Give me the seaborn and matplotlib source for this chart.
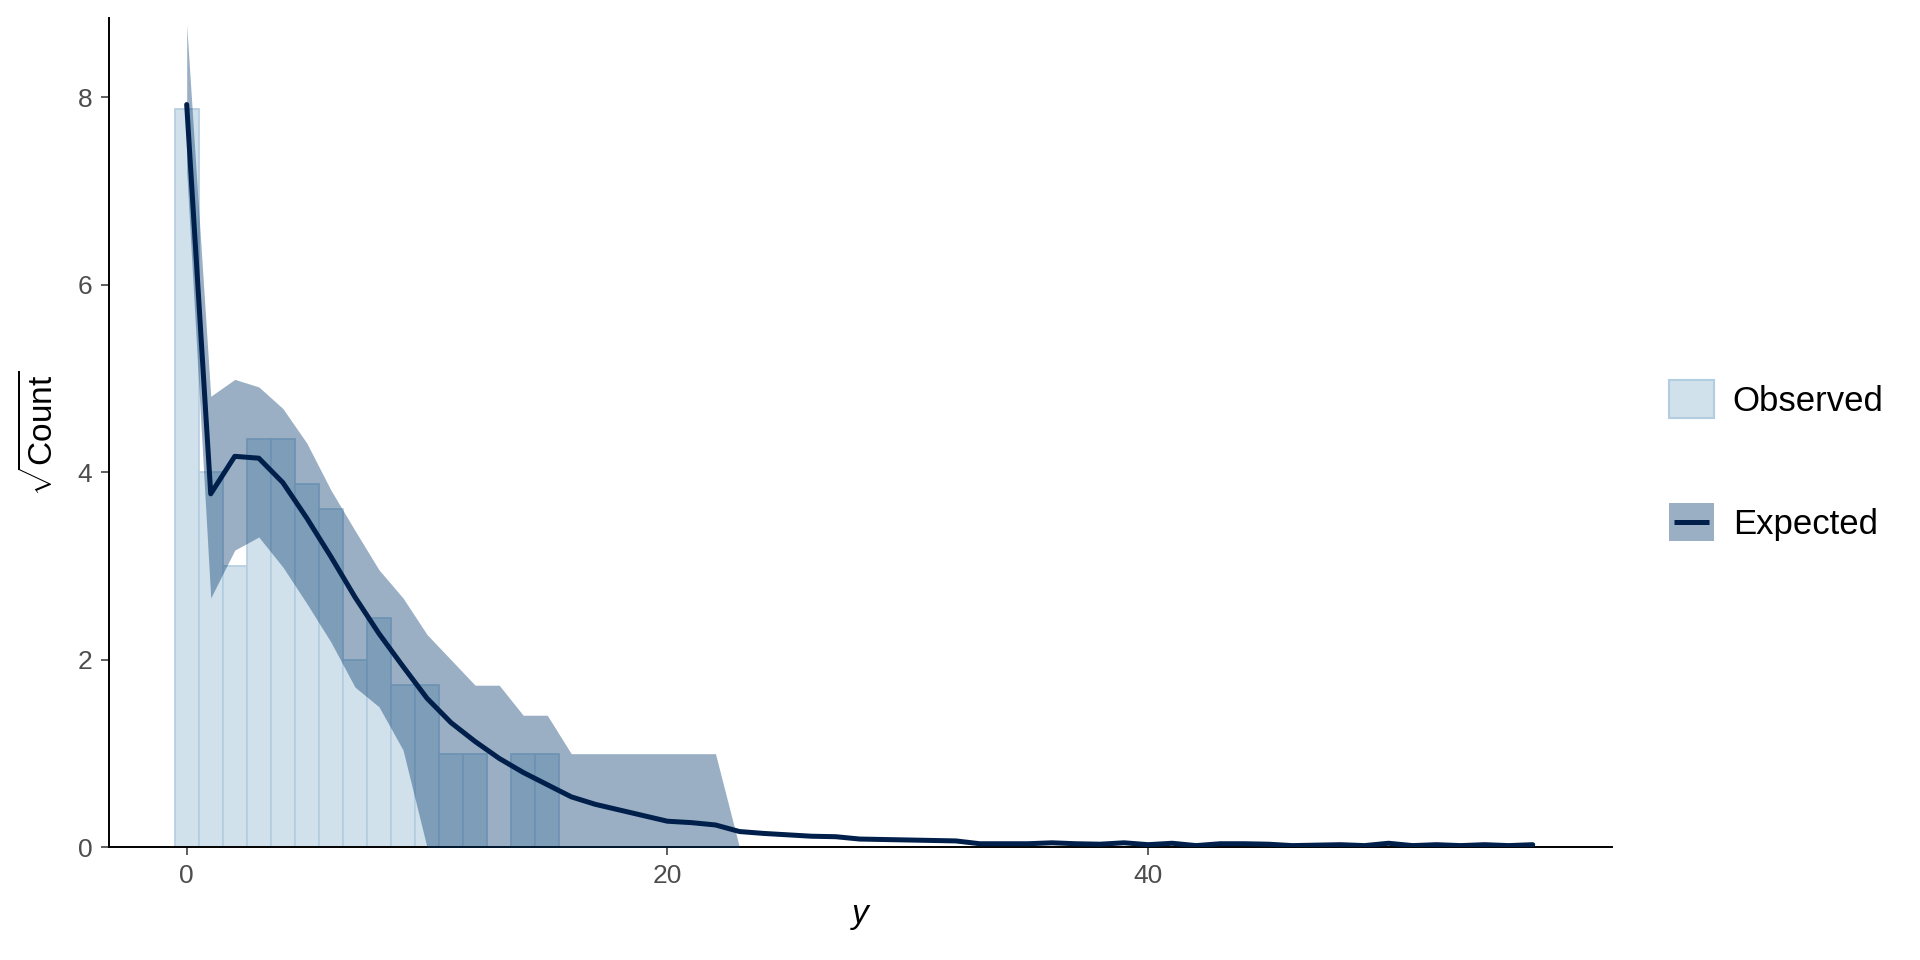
import numpy as np
import pandas as pd
import matplotlib
matplotlib.use("Agg")
import matplotlib.pyplot as plt
import seaborn as sns
from matplotlib.patches import Patch, Rectangle
from matplotlib.lines import Line2D
from matplotlib.legend_handler import HandlerBase

# ---------------- data ----------------
obs_y = list(range(0, 16))
obs_counts = [62, 16, 9, 19, 19, 15, 13, 4, 6, 3, 3, 1, 1, 0, 1, 1]

exp_y = list(range(0, 57))
exp_sqrt = [7.92, 3.77, 4.17, 4.15, 3.89, 3.51, 3.10, 2.67, 2.28, 1.93,
            1.59, 1.33, 1.13, 0.95, 0.80, 0.67, 0.54, 0.46, 0.40, 0.34,
            0.28, 0.265, 0.24, 0.17, 0.15, 0.135, 0.12, 0.115, 0.09, 0.085,
            0.08, 0.075, 0.07, 0.04, 0.04, 0.04, 0.05, 0.04, 0.035, 0.05,
            0.03, 0.045, 0.02, 0.04, 0.04, 0.035, 0.02, 0.025, 0.03, 0.02,
            0.045, 0.02, 0.03, 0.02, 0.03, 0.02, 0.03]

band_y = list(range(0, 24))
band_upper = [8.77, 4.81, 4.99, 4.91, 4.68, 4.31, 3.81, 3.38, 2.96, 2.66,
              2.27, 2.00, 1.73, 1.73, 1.41, 1.41, 1.00, 1.00, 1.00, 1.00,
              1.00, 1.00, 1.00, 0.00]
band_lower = [7.21, 2.66, 3.17, 3.31, 2.99, 2.60, 2.19, 1.71, 1.50, 1.04,
              0.00, 0.00, 0.00, 0.00, 0.00, 0.00, 0.00, 0.00, 0.00, 0.00,
              0.00, 0.00, 0.00, 0.00]

x_ticks = [0, 20, 40]
y_ticks = [0, 2, 4, 6, 8]

# ---------------- style ----------------
sns.set_theme(style="ticks")
plt.rcParams["font.family"] = ["Liberation Sans", "DejaVu Sans"]
plt.rcParams["mathtext.fontset"] = "custom"
plt.rcParams["mathtext.rm"] = "Liberation Sans"
plt.rcParams["mathtext.it"] = "Liberation Sans:italic"
plt.rcParams["text.color"] = "black"
plt.rcParams["axes.labelcolor"] = "black"

light = "#d1e1ec"
light_hl = "#b3cde0"
dark = "#03396c"
dark_hl = "#011f4b"

fig = plt.figure(figsize=(19.2, 9.6), dpi=100)
ax = fig.add_axes([0.0568, 0.1172, 0.8396 - 0.0568, 0.981 - 0.1172])

obs_df = pd.DataFrame({"y": obs_y, "sqrt_count": np.sqrt(obs_counts)})
sns.histplot(data=obs_df, x="y", weights="sqrt_count", discrete=True,
             color=light, edgecolor=light_hl, linewidth=1.2, alpha=1.0,
             ax=ax)

band_df = pd.DataFrame({"y": band_y, "lo": band_lower, "hi": band_upper})
ax.fill_between(band_df["y"], band_df["lo"], band_df["hi"],
                color=dark, alpha=0.4, linewidth=0, zorder=3)

exp_df = pd.DataFrame({"y": exp_y, "e": exp_sqrt})
sns.lineplot(data=exp_df, x="y", y="e", color=dark_hl, linewidth=3.6,
             ax=ax, zorder=4)

ax.set_xlim(-3.23, 59.3)
ax.set_ylim(0, 8.84)
ax.set_xticks(x_ticks)
ax.set_yticks(y_ticks)
ax.tick_params(axis="both", labelsize=19, labelcolor="#4d4d4d",
               color="#333333", length=6, width=1.1)
ax.tick_params(axis="x", pad=6)
ax.tick_params(axis="y", pad=6)
for s in ["top", "right"]:
    ax.spines[s].set_visible(False)
for s in ["left", "bottom"]:
    ax.spines[s].set_color("black")
    ax.spines[s].set_linewidth(1.4)

ax.set_xlabel("y", fontsize=24, fontstyle="italic", labelpad=8)
ax.set_ylabel(r"$\sqrt{\mathrm{Count}}$", fontsize=24, labelpad=13)


class ExpectedKey:
    pass


class ExpectedHandler(HandlerBase):
    def create_artists(self, legend, orig_handle, xdescent, ydescent,
                       width, height, fontsize, trans):
        r = Rectangle((-xdescent, -ydescent), width, height,
                      facecolor=dark, alpha=0.4, linewidth=0,
                      transform=trans)
        yc = height / 2 - ydescent
        ln = Line2D([-xdescent + 0.11 * width, -xdescent + 0.89 * width],
                    [yc, yc], color=dark_hl, linewidth=3.6,
                    solid_capstyle="butt", transform=trans)
        return [r, ln]


handles = [Patch(facecolor=light, edgecolor=light_hl, linewidth=1.5),
           ExpectedKey()]
fig.legend(handles, ["Observed", "Expected"], loc="center left",
           bbox_to_anchor=(0.860, 0.52), frameon=False, fontsize=25,
           handlelength=1.3, handleheight=1.3, labelspacing=2.45,
           handletextpad=0.55, borderpad=0,
           handler_map={ExpectedKey: ExpectedHandler()})

fig.savefig("out.png", dpi=100)
